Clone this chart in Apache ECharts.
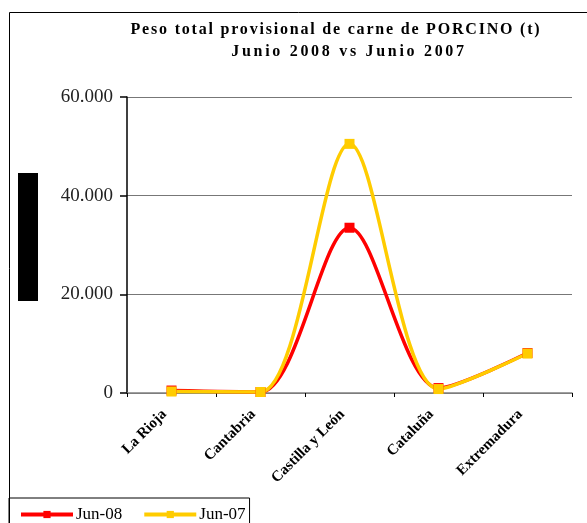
<!DOCTYPE html>
<html><head><meta charset="utf-8">
<script src="https://cdn.jsdelivr.net/npm/echarts@6/dist/echarts.min.js"></script>
<style>html,body{margin:0;padding:0;background:#fff}#c{width:587px;height:523px}</style>
</head><body><div id="c"></div>
<script>
const categories = ['La Rioja', 'Cantabria', 'Castilla y León', 'Cataluña', 'Extremadura'];
const jun08 = [500, 200, 33500, 1000, 8100];
const jun07 = [300, 200, 50500, 800, 8000];
const yTicks = [0, 20000, 40000, 60000];
const titleLines = ['Peso total provisional de carne de PORCINO (t)', 'Junio 2008 vs Junio 2007'];
const titleSpacing = ['1.8px', '2.7px'];

// letter-spaced title text (as in the reference)
(function(){
  const proto = CanvasRenderingContext2D.prototype;
  const orig = proto.fillText;
  proto.fillText = function(t, x, y, w){
    const i = titleLines.indexOf(t);
    if (i >= 0 && 'letterSpacing' in this) {
      this.save();
      this.letterSpacing = titleSpacing[i];
      const r = orig.call(this, t, x, y);
      this.restore();
      this.letterSpacing = '0px';
      return r;
    }
    if (this.letterSpacing && this.letterSpacing !== '0px') this.letterSpacing = '0px';
    return w === undefined ? orig.call(this, t, x, y) : orig.call(this, t, x, y, w);
  };
})();

const chart = echarts.init(document.getElementById('c'));
const serif = '"Liberation Serif", "DejaVu Serif", serif';
function fmt(v){ return String(v).replace(/\B(?=(\d{3})+(?!\d))/g, '.'); }
const titleFont = { fontFamily: serif, fontWeight: 'bold', fontSize: 16, fill: '#000', align: 'center', verticalAlign: 'middle' };
chart.setOption({
  animation: false,
  graphic: [
    { type: 'rect', shape: { x: 9.5, y: 12.5, width: 700, height: 700 }, style: { fill: 'none', stroke: '#000', lineWidth: 1 }, z: -1 },
    { type: 'rect', shape: { x: 18, y: 173, width: 20, height: 128 }, style: { fill: '#000' } },
    { type: 'text', x: 336, y: 30, style: Object.assign({ text: titleLines[0] }, titleFont) },
    { type: 'text', x: 349, y: 52, style: Object.assign({ text: titleLines[1] }, titleFont) }
  ],
  legend: {
    left: 9, top: 498,
    padding: [8, 4, 30, 10],
    borderColor: '#000', borderWidth: 1,
    itemWidth: 52, itemHeight: 9, itemGap: 20,
    lineStyle: { width: 4 },
    textStyle: { fontFamily: serif, fontSize: 17, color: '#000', padding: [0, 0, 0, -2] },
    data: ['Jun-08', 'Jun-07']
  },
  grid: { left: 127, top: 97, right: 15, bottom: 130 },
  xAxis: {
    type: 'category', data: categories, boundaryGap: true,
    axisLine: { lineStyle: { color: '#808080', width: 1.5 } },
    axisTick: { show: true, length: 4, inside: false, lineStyle: { color: '#000' } },
    axisLabel: { rotate: 45, margin: 12, padding: [0, 10, 0, 0], fontFamily: serif, fontSize: 15, fontWeight: 'bold', color: '#000', interval: 0 }
  },
  yAxis: {
    type: 'value', min: 0, max: 60000, interval: 20000,
    axisLine: { show: true, lineStyle: { color: '#000', width: 1.5 } },
    axisTick: { show: true, length: 7, lineStyle: { color: '#000', width: 1.5 } },
    axisLabel: { fontFamily: serif, fontSize: 19, color: '#222', margin: 14, formatter: v => fmt(v) },
    splitLine: { lineStyle: { color: '#777', width: 1 } }
  },
  series: [
    { name: 'Jun-08', type: 'line', data: jun08, smooth: 0.3, clip: false,
      lineStyle: { color: '#FF0000', width: 3.5 }, itemStyle: { color: '#FF0000' },
      symbol: 'rect', symbolSize: 10, showAllSymbol: true },
    { name: 'Jun-07', type: 'line', data: jun07, smooth: 0.3, clip: false,
      lineStyle: { color: '#FFCC00', width: 3.5 }, itemStyle: { color: '#FFCC00' },
      symbol: 'rect', symbolSize: 10, showAllSymbol: true }
  ]
});
</script></body></html>
